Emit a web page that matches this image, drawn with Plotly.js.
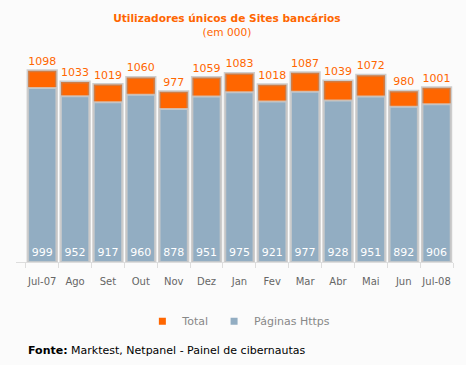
<!DOCTYPE html>
<html><head><meta charset="utf-8">
<script src="https://cdn.plot.ly/plotly-3.0.1.min.js"></script>
<style>html,body{margin:0;padding:0;background:#fbfbfb;}</style>
</head><body>
<div id="chart" style="width:466px;height:365px;"></div>
<script>
const categories = ["Jul-07","Ago","Set","Out","Nov","Dez","Jan","Fev","Mar","Abr","Mai","Jun","Jul-08"];
const totalValues = [1098,1033,1019,1060,977,1059,1083,1018,1087,1039,1072,980,1001];
const httpsValues = [999,952,917,960,878,951,975,921,977,928,951,892,906];
const seriesNames = ["Total", "Páginas Https"];
const seriesColors = ["#ff6600", "#92adc2"];

const font = "DejaVu Sans, Verdana, sans-serif";
const traces = [
  {
    type: "bar", name: seriesNames[0], x: categories, y: totalValues, showlegend: false,
    marker: {color: seriesColors[0], line: {color: "rgba(150,150,150,0.45)", width: 3}},
    width: 0.86,
    text: totalValues.map(String), textposition: "outside", cliponaxis: false,
    textfont: {color: "#ff6600", size: 11, family: font}
  },
  {
    type: "bar", name: seriesNames[1], x: categories, y: httpsValues, showlegend: false,
    marker: {color: seriesColors[1], line: {color: "rgba(205,205,205,0.8)", width: 2}},
    width: 0.86,
    text: httpsValues.map(String), textposition: "inside", insidetextanchor: "start",
    textangle: 0,
    textfont: {color: "#ffffff", size: 11, family: font}
  },
  {type: "scatter", mode: "markers", name: seriesNames[0], x: [categories[0]], y: [null],
   marker: {symbol: "square", size: 7, color: seriesColors[0]}},
  {type: "scatter", mode: "markers", name: seriesNames[1], x: [categories[0]], y: [null],
   marker: {symbol: "square", size: 7, color: seriesColors[1]}}
];
const layout = {
  width: 466, height: 365,
  paper_bgcolor: "#fbfbfb", plot_bgcolor: "#fbfbfb",
  margin: {l: 16, r: 13, t: 60, b: 103},
  barmode: "overlay",
  title: {
    text: "<b>Utilizadores únicos de Sites bancários</b><br>(em 000)",
    font: {family: font, size: 10.6, color: "#ff6600"},
    x: 0.487, xanchor: "center", y: 0.94, yanchor: "top"
  },
  xaxis: {
    type: "category", showgrid: false, zeroline: false,
    showline: true, linecolor: "#dddddd", linewidth: 1,
    ticks: "outside", tickson: "boundaries", ticklen: 5, tickcolor: "#dddddd",
    tickangle: 0, ticklabelstandoff: 10,
    tickfont: {family: font, size: 10, color: "#666666"}
  },
  yaxis: {range: [0, 1160], visible: false, fixedrange: true},
  showlegend: true,
  legend: {
    orientation: "h", x: 0.51, xanchor: "center", yref: "container", y: 0.12, yanchor: "middle",
    font: {family: font, size: 11, color: "#888888"}, bgcolor: "rgba(0,0,0,0)",
    itemwidth: 30, traceorder: "normal"
  },
  annotations: [{
    xref: "paper", yref: "paper", x: 0.023, y: -0.436, xanchor: "left", yanchor: "middle",
    text: "<b>Fonte:</b> Marktest, Netpanel - Painel de cibernautas", showarrow: false,
    font: {family: font, size: 11, color: "#000000"}
  }]
};
Plotly.newPlot("chart", traces, layout, {displayModeBar: false, staticPlot: true});
</script>
</body></html>
